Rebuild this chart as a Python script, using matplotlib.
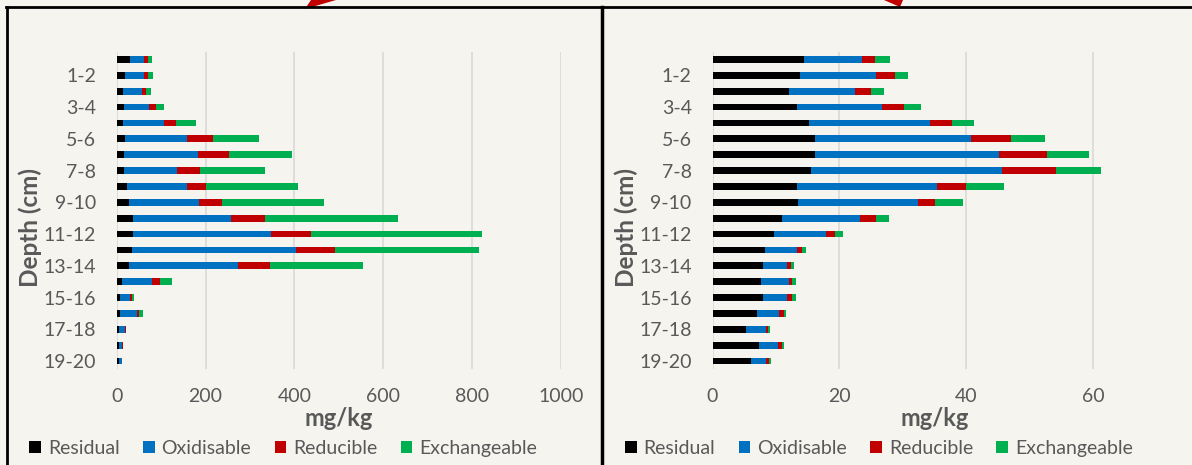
import matplotlib.pyplot as plt
from matplotlib.patches import Polygon, Patch

# depth intervals (top to bottom)
depths = ["0-1", "1-2", "2-3", "3-4", "4-5", "5-6", "6-7", "7-8", "8-9", "9-10",
          "10-11", "11-12", "12-13", "13-14", "14-15", "15-16", "16-17", "17-18",
          "18-19", "19-20"]
fractions = ["Residual", "Oxidisable", "Reducible", "Exchangeable"]
colors = ["#000000", "#0070c0", "#c00000", "#00b050"]

# left panel (mg/kg)
left_residual = [31, 19, 14, 16, 14, 19, 16, 16, 23, 27, 37, 36, 34, 28, 12, 8, 8, 6, 5, 5]
left_oxidisable = [30, 42, 42, 57, 92, 140, 166, 119, 136, 159, 220, 312, 369, 246, 67, 22, 37, 13, 8, 6]
left_reducible = [10, 10, 10, 16, 28, 57, 70, 52, 41, 51, 76, 90, 89, 71, 18, 4, 5, 1, 0.5, 0.5]
left_exchangeable = [8, 10, 12, 18, 44, 105, 143, 148, 208, 231, 301, 385, 325, 209, 28, 4, 9, 1, 0.5, 0.5]

# right panel (mg/kg)
right_residual = [14.5, 13.8, 12.1, 13.3, 15.2, 16.1, 16.1, 15.6, 13.3, 13.5,
                  11.0, 9.7, 8.3, 7.9, 7.7, 8.0, 7.0, 5.3, 7.4, 6.0]
right_oxidisable = [9.0, 12.0, 10.4, 13.5, 19.1, 24.6, 29.1, 30.0, 22.1, 18.9,
                    12.2, 8.2, 5.0, 3.9, 4.3, 3.8, 3.5, 3.1, 3.0, 2.4]
right_reducible = [2.1, 2.9, 2.5, 3.4, 3.4, 6.4, 7.6, 8.6, 4.6, 2.7,
                   2.6, 1.4, 0.8, 0.6, 0.6, 0.8, 0.7, 0.4, 0.5, 0.5]
right_exchangeable = [2.4, 2.1, 2.1, 2.7, 3.6, 5.3, 6.6, 7.0, 5.9, 4.4,
                      2.0, 1.2, 0.6, 0.5, 0.5, 0.5, 0.4, 0.25, 0.3, 0.4]

left_xticks = [0, 200, 400, 600, 800, 1000]
right_xticks = [0, 20, 40, 60]

bg = "#f5f4ef"
txt = "#595959"
plt.rcParams['font.family'] = ['Lato', 'DejaVu Sans']

fig = plt.figure(figsize=(11.92, 4.65), dpi=100, facecolor=bg)
W, H = 1192, 465


def panel(x0, series, xticks, xmax):
    ax = fig.add_axes([x0 / W, 1 - 369 / H, 444 / W, 317.5 / H])
    ax.set_facecolor(bg)
    ypos = list(range(len(depths)))
    left = [0] * len(depths)
    for name, vals, c in zip(fractions, series, colors):
        ax.barh(ypos, vals, left=left, height=0.42, color=c, label=name, zorder=3)
        left = [a + b for a, b in zip(left, vals)]
    ax.set_ylim(len(depths) - 0.5, -0.5)
    ax.set_xlim(0, xmax)
    ax.set_xticks(xticks)
    ax.set_yticks(ypos[1::2])
    ax.set_yticklabels(depths[1::2])
    ax.tick_params(length=0, labelsize=14, colors=txt)
    ax.tick_params(axis='y', pad=15)
    ax.tick_params(axis='x', pad=14)
    ax.grid(axis='x', color="#d9d9d9", linewidth=1.2, zorder=0)
    for s in ax.spines.values():
        s.set_visible(False)
    ax.set_xlabel("mg/kg", fontsize=17, fontweight='bold', color=txt)
    ax.xaxis.set_label_coords(0.5, -0.12)
    ax.set_ylabel("Depth (cm)", fontsize=17.5, fontweight='bold', color=txt)
    ax.yaxis.set_label_coords(-0.168, 0.447)
    handles = [Patch(facecolor=c, edgecolor='none') for c in colors]
    ax.legend(handles, fractions, loc='center', bbox_to_anchor=(0.375, -0.25),
              ncol=4, frameon=False, fontsize=14, labelcolor=txt,
              handlelength=0.6, handleheight=0.6, handletextpad=0.35,
              columnspacing=1.2, borderaxespad=0)
    return ax


panel(116.7, [left_residual, left_oxidisable, left_reducible, left_exchangeable],
      left_xticks, 1000)
panel(712.5, [right_residual, right_oxidisable, right_reducible, right_exchangeable],
      right_xticks, 70)

# frame lines around the panels
def px_line(xs, ys, lw):
    fig.add_artist(plt.Line2D([x / W for x in xs], [1 - y / H for y in ys],
                              color='black', linewidth=lw, transform=fig.transFigure))

px_line([6, 1192], [7.5, 7.5], 2)
px_line([6.5, 6.5], [7, 465], 2)
px_line([602, 602], [7, 465], 2.5)

# red arrow heads cut off at the top
for pts in ([(305, 9), (311, 0), (336, 0)], [(900, 7), (884, 0), (903, 0)]):
    fig.add_artist(Polygon([(x / W, 1 - y / H) for x, y in pts], closed=True,
                           facecolor='#c00000', edgecolor='none',
                           transform=fig.transFigure))

fig.savefig("out.png", dpi=100, facecolor=bg)
